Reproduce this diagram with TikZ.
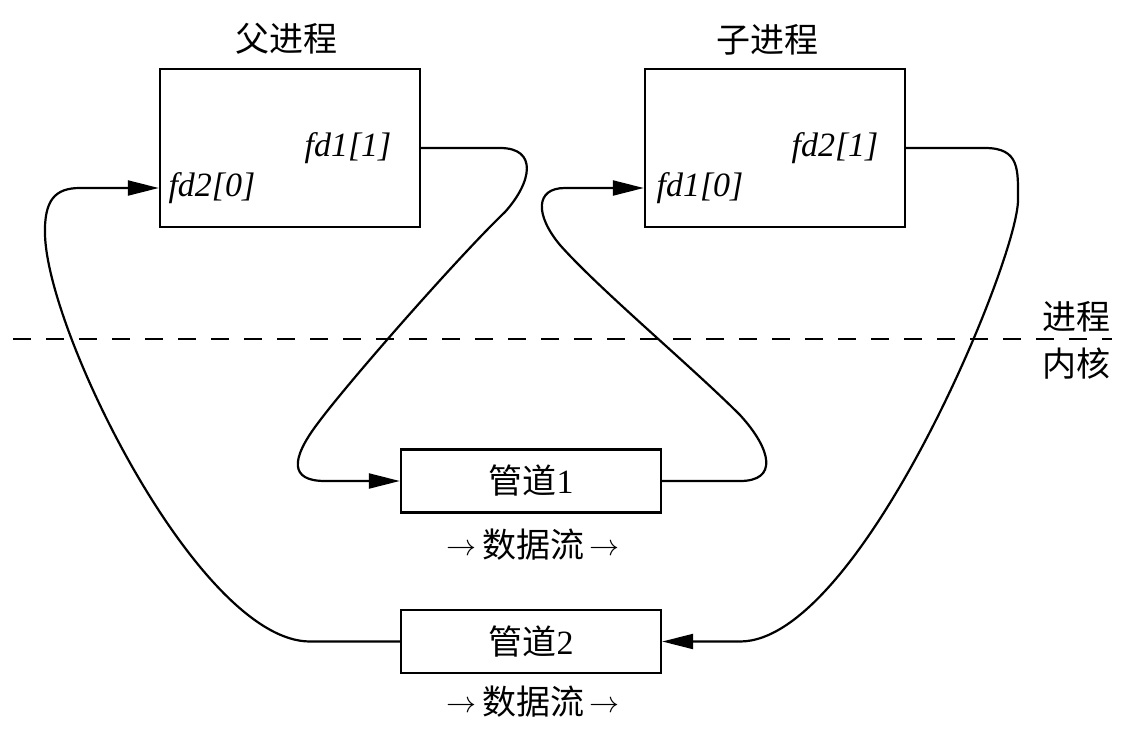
\documentclass[tikz,border=0pt]{standalone}
\usepackage{fix-cm}
\usepackage{fontspec}
\setmainfont{Liberation Serif}
\newfontfamily\cjk{Noto Sans CJK SC}
\usetikzlibrary{arrows.meta}
\newcommand{\flowarrow}{\raisebox{2.5pt}{\fontsize{30}{30}\selectfont$\rightarrow$}}
\begin{document}
\begin{tikzpicture}[x=1pt,y=-1pt,
  box/.style={draw, line width=2.4pt, minimum width=260pt, minimum height=158pt, inner sep=0pt},
  pipebox/.style={draw, line width=2.4pt, minimum width=260pt, minimum height=63pt, inner sep=0pt, font=\cjk\fontsize{34}{34}\selectfont},
  cn/.style={font=\cjk\fontsize{34}{34}\selectfont, inner sep=0pt},
  fdl/.style={font=\itshape\fontsize{34}{34}\selectfont, inner sep=0pt},
  conn/.style={line width=2.2pt},
  tip/.style={-{Triangle[length=31pt,width=15pt]}},
  sep/.style={line width=2.4pt, dash pattern=on 18pt off 15pt}]
\useasboundingbox[fill=white] (0,0) rectangle (1133,734);
% boxes
\node[box] (parent) at (290,148) {};
\node[box] (child) at (775,148) {};
\node[pipebox] (pipe1) at (531,481) {管道{\rmfamily 1}};
\node[pipebox] (pipe2) at (531,641.5) {管道{\rmfamily 2}};
% titles
\node[cn] (ptitle) at (286,39) {父进程};
\node[cn] (ctitle) at (767,40) {子进程};
% fd labels
\node[fdl] (fd11) at (348,148) {fd1[1]};
\node[fdl] (fd20) at (212,188) {fd2[0]};
\node[fdl] (fd21) at (835,148) {fd2[1]};
\node[fdl] (fd10) at (700,188) {fd1[0]};
% flow labels
\node[cn] (flow1) at (533,545) {\flowarrow\,数据流\,\flowarrow};
\node[cn] (flow2) at (533,702) {\flowarrow\,数据流\,\flowarrow};
% separator
\coordinate (sepL) at (13,339);
\coordinate (sepR) at (1112,339);
\draw[sep] (sepL) -- (sepR);
\node[cn] (user) at (1076,317) {进程};
\node[cn] (kernel) at (1076,364) {内核};
% connectors
\draw[conn,tip] (parent.east |- fd11) -- (500,148) .. controls (538,148) and (532,182) .. (505,212) .. controls (460,255) and (350,380) .. (318,423) .. controls (290,460) and (290,481) .. (325,481) -- (pipe1.west);
\draw[conn,tip] (pipe1.east) -- (740,481) .. controls (778,481) and (772,450) .. (740,415) .. controls (690,365) and (600,290) .. (560,245) .. controls (535,215) and (535,188) .. (565,188) -- (child.west |- fd10);
\draw[conn,tip] (child.east |- fd21) -- (985,148) .. controls (1020,148) and (1018,170) .. (1018,200) .. controls (1018,260) and (860,641.5) .. (740,641.5) -- (pipe2.east);
\draw[conn,tip] (pipe2.west) -- (310,641.5) .. controls (200,641.5) and (48,335) .. (45,235) .. controls (44,200) and (55,188) .. (80,188) -- (parent.west |- fd20);
\end{tikzpicture}
\end{document}
